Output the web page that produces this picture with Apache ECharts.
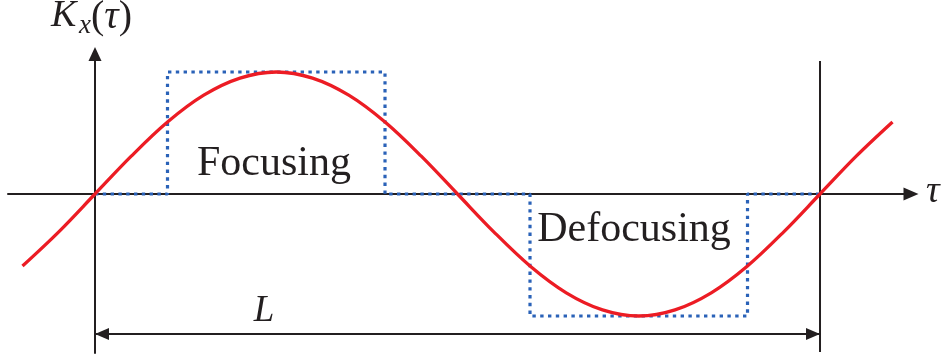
<!DOCTYPE html>
<html>
<head>
<meta charset="utf-8">
<script src="https://cdn.jsdelivr.net/npm/echarts@6/dist/echarts.min.js"></script>
<style>
  html, body { margin: 0; padding: 0; background: #fff; }
  #chart { width: 944px; height: 360px; }
</style>
</head>
<body>
<div id="chart"></div>
<script>
// Betatron focusing function over one lattice period L (τ measured in units of L)
const tau = [-0.10, -0.05, 0.00, 0.05, 0.10, 0.15, 0.20, 0.25, 0.30, 0.35, 0.40, 0.45,
             0.50, 0.55, 0.60, 0.65, 0.70, 0.75, 0.80, 0.85, 0.90, 0.95, 1.00, 1.05, 1.10];
const kx  = [-0.59, -0.31, 0.00, 0.31, 0.59, 0.81, 0.95, 1.00, 0.95, 0.81, 0.59, 0.31,
             0.00, -0.31, -0.59, -0.81, -0.95, -1.00, -0.95, -0.81, -0.59, -0.31, 0.00, 0.31, 0.59];

// Hard-edge (piecewise constant) approximation: focusing then defocusing lens
const pulseTau = [0, 0.1, 0.1, 0.4, 0.4, 0.6, 0.6, 0.9, 0.9, 1.0];
const pulseK   = [0, 0,   1,   1,   0,   0,  -1,  -1,   0,   0];

// End of the period, and the L dimension marker
const boundaryTau = [1, 1];
const boundaryK   = [1.09, -1.295];
const spanTau = [0, 1];
const spanK = -1.148;

const INK = '#231f20';
const SERIF = '"Liberation Serif", "DejaVu Serif", serif';

const zip = (a, b) => a.map((v, i) => [v, b[i]]);

const chart = echarts.init(document.getElementById('chart'), null, { renderer: 'canvas' });

chart.setOption({
  animation: false,
  backgroundColor: '#ffffff',
  grid: { left: 8, right: 33, top: 54, bottom: 7 },
  xAxis: {
    type: 'value', min: -0.12, max: 1.1255,
    axisLine: { onZero: true, symbol: ['none', 'triangle'], symbolSize: [13, 15],
                lineStyle: { color: INK, width: 2 } },
    axisTick: { show: false }, axisLabel: { show: false }, splitLine: { show: false }
  },
  yAxis: {
    type: 'value', min: -1.3033, max: 1.1475,
    axisLine: { onZero: true, symbol: ['none', 'triangle'], symbolSize: [13, 14],
                lineStyle: { color: INK, width: 2 } },
    axisTick: { show: false }, axisLabel: { show: false }, splitLine: { show: false }
  },
  series: [
    {
      type: 'line', data: zip(pulseTau, pulseK), symbol: 'none', z: 3,
      lineStyle: { color: '#2a62b8', width: 3.2, type: [3.4, 4.4], cap: 'butt' }
    },
    {
      type: 'line', data: zip(tau, kx), symbol: 'none', smooth: 0.35, z: 4,
      lineStyle: { color: '#ec1c24', width: 3.3 }
    },
    {
      type: 'line', data: zip(boundaryTau, boundaryK), symbol: 'none', z: 2,
      lineStyle: { color: INK, width: 2 },
      markLine: {
        silent: true,
        symbol: ['triangle', 'triangle'],
        symbolSize: [12, 14],
        symbolOffset: [[0, 7], [0, 7]],
        label: { show: false },
        lineStyle: { color: INK, width: 2, type: 'solid' },
        data: [[{ coord: [spanTau[0], spanK] }, { coord: [spanTau[1], spanK] }]]
      }
    }
  ],
  graphic: [
    { type: 'text', x: 51, y: 16, style: { text: 'K', font: 'italic 38px ' + SERIF, fill: INK, textAlign: 'left', textVerticalAlign: 'middle' } },
    { type: 'text', x: 79, y: 26, style: { text: 'x', font: 'italic 27px ' + SERIF, fill: INK, textAlign: 'left', textVerticalAlign: 'middle' } },
    { type: 'text', x: 91, y: 17, style: { text: '{r|(}{i|τ}{r|)}', fill: INK, textAlign: 'left', textVerticalAlign: 'middle',
        rich: { r: { font: '40px ' + SERIF, fill: INK }, i: { font: 'italic 40px ' + SERIF, fill: INK } } } },
    { type: 'text', x: 926, y: 192, style: { text: 'τ', font: 'italic 38px ' + SERIF, fill: INK, textAlign: 'left', textVerticalAlign: 'middle' } },
    { type: 'text', x: 274, y: 164, style: { text: 'Focusing', font: '42px ' + SERIF, fill: INK, textAlign: 'center', textVerticalAlign: 'middle' } },
    { type: 'text', x: 634, y: 230, style: { text: 'Defocusing', font: '42px ' + SERIF, fill: INK, textAlign: 'center', textVerticalAlign: 'middle' } },
    { type: 'text', x: 264, y: 311, style: { text: 'L', font: 'italic 37px ' + SERIF, fill: INK, textAlign: 'center', textVerticalAlign: 'middle' } }
  ]
});
</script>
</body>
</html>
